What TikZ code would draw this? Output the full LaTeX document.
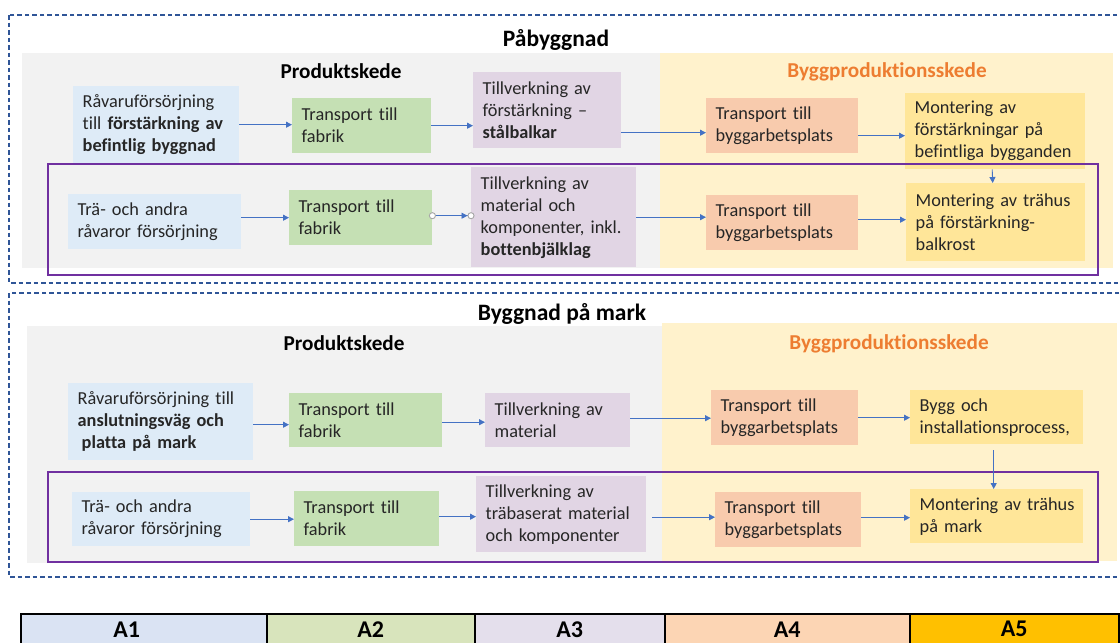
\documentclass[tikz,border=0pt]{standalone}
\usepackage{fontspec}
\setmainfont{Carlito}[Ligatures=NoCommon]
\usetikzlibrary{arrows.meta,calc}
\definecolor{dashc}{HTML}{2F5597}
\definecolor{purp}{HTML}{7030A0}
\definecolor{arrc}{HTML}{4472C4}
\definecolor{grayp}{HTML}{F2F2F2}
\definecolor{yelp}{HTML}{FFF2CC}
\definecolor{orng}{HTML}{ED7D31}
\definecolor{txt}{HTML}{262626}
\definecolor{cA}{HTML}{DEEBF7}
\definecolor{cB}{HTML}{C5E0B4}
\definecolor{cC}{HTML}{E1D5E4}
\definecolor{cD}{HTML}{F8CBAD}
\definecolor{cE}{HTML}{FFE699}
\definecolor{lA}{HTML}{DAE3F3}
\definecolor{lB}{HTML}{D8E4BC}
\definecolor{lC}{HTML}{E4DFEC}
\definecolor{lD}{HTML}{FCD5B4}
\definecolor{lE}{HTML}{FFC000}
\definecolor{circc}{HTML}{A6A6A6}
\begin{document}
\begin{tikzpicture}[x=1pt,y=-1pt,
  box/.style={anchor=north west, inner xsep=9.5pt, inner ysep=0pt, align=left,
    font=\fontsize{18.3}{22}\selectfont, text=txt,
    execute at begin node={\hyphenpenalty=10000\exhyphenpenalty=10000}},
  sectitle/.style={anchor=base, font=\fontsize{23.5}{27}\selectfont\bfseries, text=black, inner sep=0pt},
  subtitle/.style={anchor=base, font=\fontsize{21.2}{25}\selectfont\bfseries, text=black, inner sep=0pt},
  arr/.style={draw=arrc, line width=0.9pt, -{Triangle[width=6pt,length=6pt]}},
  circarr/.style={draw=arrc, line width=0.9pt,
    {Circle[open, fill=white, color=circc, length=7pt, width=7pt]}-{Triangle[width=6pt,length=6pt] Circle[open, fill=white, color=circc, length=7pt, width=7pt]},
    shorten <=-3.5pt, shorten >=-3.5pt},
  dashframe/.style={draw=dashc, line width=1.3pt, dash pattern=on 4.5pt off 3pt},
  purpframe/.style={draw=purp, line width=1.4pt},
  leg/.style={anchor=north west, draw=black, line width=1.5pt, minimum height=31pt, inner sep=0pt,
    font=\fontsize{24}{28}\selectfont\bfseries, text=black}
]
\useasboundingbox (0,0) rectangle (1120,643);

% ---------- Section 1 ----------
\fill[grayp] (22,53) rectangle (660,268);
\fill[yelp] (660,53) rectangle (1113,268);
\draw[dashframe] (9,15) rectangle (1135,283);
\node[sectitle] (s1title) at (556,46) {Påbyggnad};
\node[subtitle] (s1prod) at (341,78) {Produktskede};
\node[subtitle, text=orng] (s1bygg) at (887,77) {Byggproduktionsskede};

\node[box, fill=cA, minimum width=166pt, minimum height=77pt, text width=147pt] (p1) at (73,86)
  {Råvaruförsörjning\\till \textbf{förstärkning av}\\\textbf{befintlig byggnad}};
\node[box, fill=cB, minimum width=139pt, minimum height=55pt, text width=120pt] (p2) at (292,98)
  {Transport till\\fabrik};
\node[box, fill=cC, minimum width=148pt, minimum height=76pt, text width=129pt] (p3) at (473,72)
  {Tillverkning av\\förstärkning –\\\textbf{stålbalkar}};
\node[box, fill=cD, minimum width=152pt, minimum height=55pt, text width=133pt] (p4) at (706,98)
  {Transport till\\byggarbetsplats};
\node[box, fill=cE, minimum width=180pt, minimum height=76pt, text width=161pt] (p5) at (905,93)
  {Montering av\\förstärkningar på\\befintliga bygganden};

\node[box, fill=cA, minimum width=173pt, minimum height=55pt, text width=154pt] (q1) at (68,194)
  {Trä- och andra\\råvaror försörjning};
\node[box, fill=cB, minimum width=143pt, minimum height=55pt, text width=124pt] (q2) at (289,190)
  {Transport till\\fabrik};
\node[box, fill=cC, minimum width=165pt, minimum height=100pt, text width=146pt] (q3) at (471,167)
  {Tillverkning av\\material och\\komponenter, inkl.\\\textbf{bottenbjälklag}};
\node[box, fill=cD, minimum width=152pt, minimum height=55pt, text width=133pt] (q4) at (706,195)
  {Transport till\\byggarbetsplats};
\node[box, fill=cE, minimum width=179pt, minimum height=78pt, text width=160pt] (q5) at (906,183)
  {Montering~av~trähus\\på förstärkning-\\balkrost};

\draw[purpframe] (48,164) rectangle (1098,275);

\draw[arr] (p1.east) -- (p1.east -| p2.west);
\draw[arr] (p2.east) -- (p2.east -| p3.west);
\draw[arr] ($(p3.east |- p4.west)+(0,7)$) -- ($(p4.west)+(0,7)$);
\draw[arr] ($(p4.east)+(0,10)$) -- ($(p4.east -| p5.west)+(0,10)$);
\draw[arr] ($(p5.south)+(-3,0)$) -- ($(q5.north)+(-3,0)$);
\draw[arr] (q1.east |- q2.west) -- (q2.west);
\draw[circarr] ($(q2.east)+(0,-2)$) -- ($(q2.east -| q3.west)+(0,-2)$);
\draw[arr] (q3.east) -- (q3.east -| q4.west);
\draw[arr] ($(q4.east)+(0,-3)$) -- ($(q4.east -| q5.west)+(0,-3)$);

% ---------- Section 2 ----------
\fill[grayp] (27,326) rectangle (662,563);
\fill[yelp] (662,323) rectangle (1117,561);
\draw[dashframe] (9,293) rectangle (1135,577);
\node[sectitle] (s2title) at (562,320) {Byggnad på mark};
\node[subtitle] (s2prod) at (344,350) {Produktskede};
\node[subtitle, text=orng] (s2bygg) at (889,349) {Byggproduktionsskede};

\node[box, fill=cA, minimum width=185pt, minimum height=77pt, text width=166pt] (r1) at (68,383)
  {Råvaruförsörjning~till\\\textbf{anslutningsväg och}\\\hspace*{4pt}\textbf{platta på mark}};
\node[box, fill=cB, minimum width=153pt, minimum height=54pt, text width=134pt] (r2) at (289,393)
  {Transport till\\fabrik};
\node[box, fill=cC, minimum width=145pt, minimum height=54pt, text width=126pt] (r3) at (485,393)
  {Tillverkning av\\material};
\node[box, fill=cD, minimum width=147pt, minimum height=55pt, text width=128pt] (r4) at (711,390)
  {Transport till\\byggarbetsplats};
\node[box, fill=cE, minimum width=173pt, minimum height=54pt, text width=154pt] (r5) at (910,390)
  {Bygg och\\installationsprocess,};

\node[box, fill=cA, minimum width=178pt, minimum height=54pt, text width=159pt] (t1) at (72,492)
  {Trä- och andra\\råvaror försörjning};
\node[box, fill=cB, minimum width=145pt, minimum height=55pt, text width=126pt] (t2) at (294,491)
  {Transport till\\fabrik};
\node[box, fill=cC, minimum width=170pt, minimum height=76pt, text width=151pt] (t3) at (476,476)
  {Tillverkning av\\träbaserat~material\\och komponenter};
\node[box, fill=cD, minimum width=146pt, minimum height=55pt, text width=127pt] (t4) at (715,492)
  {Transport till\\byggarbetsplats};
\node[box, fill=cE, minimum width=173pt, minimum height=54pt, text width=154pt] (t5) at (910,489)
  {Montering~av~trähus\\på mark};

\draw[purpframe] (48,472) rectangle (1098,562);

\draw[arr] ($(r1.east)+(0,3)$) -- ($(r1.east -| r2.west)+(0,3)$);
\draw[arr] ($(r2.east)+(0,2)$) -- ($(r2.east -| r3.west)+(0,2)$);
\draw[arr] ($(r3.east)+(0,-2)$) -- ($(r3.east -| r4.west)+(0,-2)$);
\draw[arr] (r4.east) -- (r4.east -| r5.west);
\draw[arr, shorten <=6pt] ($(r5.south)+(-3,0)$) -- ($(t5.north)+(-3,0)$);
\draw[arr] (t1.east) -- (t1.east -| t2.west);
\draw[arr] ($(t2.east)+(0,-2)$) -- ($(t2.east -| t3.west)+(0,-2)$);
\draw[arr, shorten <=6pt] ($(t3.east)+(0,3)$) -- ($(t3.east -| t4.west)+(0,3)$);
\draw[arr] ($(t4.east)+(0,-2)$) -- ($(t4.east -| t5.west)+(0,-2)$);

% ---------- Legend ----------
\node[leg, fill=lA, minimum width=246pt] (l1) at (20,613) {\hspace*{-34pt}A1};
\node[leg, fill=lB, minimum width=208pt] (l2) at (266,613) {A2};
\node[leg, fill=lC, minimum width=190pt] (l3) at (474,613) {A3};
\node[leg, fill=lD, minimum width=245pt] (l4) at (664,613) {A4};
\node[leg, fill=lE, minimum width=209pt] (l5) at (909,613) {A5};
\end{tikzpicture}
\end{document}
